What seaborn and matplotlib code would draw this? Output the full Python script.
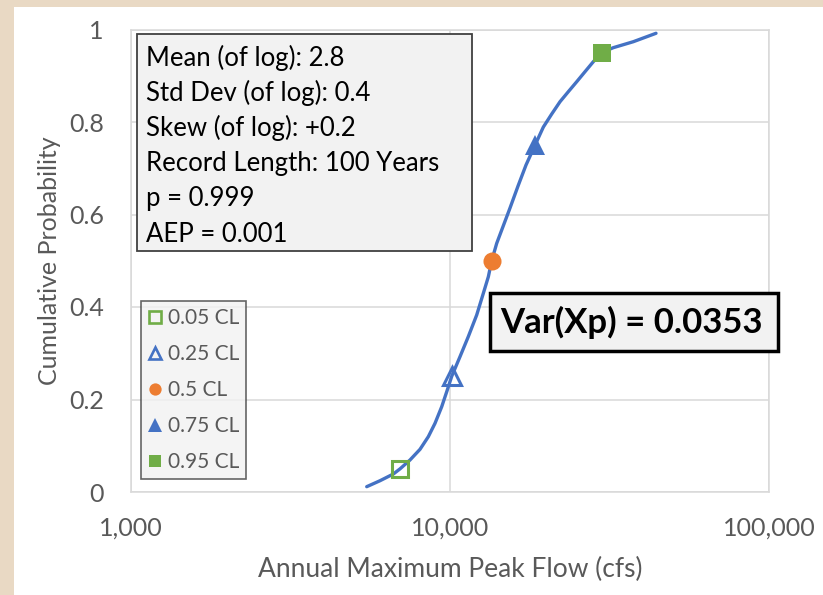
import matplotlib
matplotlib.use("Agg")
import matplotlib.pyplot as plt
import matplotlib.patches as mpatches
from matplotlib.lines import Line2D
from matplotlib.ticker import FixedLocator, FuncFormatter, NullLocator
import seaborn as sns
import pandas as pd

# ---- data ----
curve_flow = [5482, 6034, 6643, 6971, 7492, 8054, 8551, 8974, 9419, 9806,
              10123, 10747, 11410, 12125, 12720, 13190, 13511, 14010, 14526,
              15420, 16340, 17310, 18475, 19613, 20840, 22126, 23490, 24960,
              26500, 28140, 29892, 32500, 37548, 44236]
curve_prob = [0.0115, 0.0244, 0.0389, 0.05, 0.0692, 0.0923, 0.1196, 0.1485, 0.1844, 0.2205,
              0.25, 0.2925, 0.3358, 0.3827, 0.4296, 0.4655, 0.50, 0.5377, 0.5665,
              0.614, 0.6616, 0.707, 0.75, 0.789, 0.8173, 0.8439, 0.8655, 0.8871,
              0.9088, 0.9304, 0.95, 0.9607, 0.9736, 0.9918]

cl_labels = ["0.05 CL", "0.25 CL", "0.5 CL", "0.75 CL", "0.95 CL"]
cl_flow = [6971, 10123, 13511, 18475, 29892]
cl_prob = [0.05, 0.25, 0.50, 0.75, 0.95]

x_ticks = [1000, 10000, 100000]
y_ticks = [0, 0.2, 0.4, 0.6, 0.8, 1.0]
y_tick_labels = ["0", "0.2", "0.4", "0.6", "0.8", "1"]

info_lines = ["Mean (of log): 2.8", "Std Dev (of log): 0.4", "Skew (of log): +0.2",
              "Record Length: 100 Years", "p = 0.999", "AEP = 0.001"]
var_text = "Var(Xp) = 0.0353"

# ---- styling ----
sns.set_style("white")
plt.rcParams['font.family'] = ['Lato', 'DejaVu Sans']

BLUE = "#4472C4"
ORANGE = "#ED7D31"
GREEN = "#70AD47"
GRAY_TXT = "#595959"
GRID = "#D9D9D9"

W, H = 823, 595
fig = plt.figure(figsize=(W / 100, H / 100), dpi=100)
fig.patch.set_facecolor("#E9D9C4")
# white panel
fig.patches.append(mpatches.Rectangle((14 / W, 0), 1, (H - 7) / H, transform=fig.transFigure,
                                      facecolor="white", edgecolor="none", zorder=-10))

ax = fig.add_axes([131 / W, (H - 492) / H, (769 - 131) / W, (492 - 29.5) / H])
ax.set_facecolor("white")

curve_df = pd.DataFrame({"flow": curve_flow, "prob": curve_prob})
sns.lineplot(data=curve_df, x="flow", y="prob", sort=False, color=BLUE, linewidth=2.4,
             ax=ax, zorder=3)

styles = [
    dict(marker="s", mfc="none", mec=GREEN, ms=12, mew=2.2),
    dict(marker="^", mfc="none", mec=BLUE, ms=13, mew=2.2),
    dict(marker="o", mfc=ORANGE, mec=ORANGE, ms=13, mew=0),
    dict(marker="^", mfc=BLUE, mec=BLUE, ms=14, mew=0),
    dict(marker="s", mfc=GREEN, mec=GREEN, ms=13, mew=0),
]
handles = []
for lab, fx, py, st in zip(cl_labels, cl_flow, cl_prob, styles):
    ax.plot([fx], [py], linestyle="none", zorder=4, **st)
    hs = dict(st)
    hs["ms"] = st["ms"] * 0.68
    hs["mew"] = 1.9 if st["mew"] else 0
    handles.append(Line2D([], [], linestyle="none", label=lab, **hs))

ax.set_xscale("log")
ax.set_xlim(1000, 100000)
ax.set_ylim(0, 1)
ax.xaxis.set_major_locator(FixedLocator(x_ticks))
ax.xaxis.set_minor_locator(NullLocator())
ax.xaxis.set_major_formatter(FuncFormatter(lambda v, p: f"{int(round(v)):,}"))
ax.set_yticks(y_ticks)
ax.set_yticklabels(y_tick_labels)
ax.tick_params(axis="both", length=0, labelsize=18, colors=GRAY_TXT)
ax.tick_params(axis="x", pad=18)
ax.tick_params(axis="y", pad=19.5)
ax.grid(True, which="major", color=GRID, linewidth=1.1, zorder=0)
for s in ax.spines.values():
    s.set_color(GRID)
    s.set_linewidth(1.1)

ax.set_xlabel("Annual Maximum Peak Flow (cfs)", fontsize=19, color=GRAY_TXT, labelpad=12)
ax.set_ylabel("Cumulative Probability", fontsize=18, color=GRAY_TXT, labelpad=6)

# info box
def px2ax(x, y):
    return ((x - 131) / (769 - 131), (492 - y) / (492 - 29.5))

bx0, by0 = px2ax(137.3, 250.7)
bx1, by1 = px2ax(471.7, 34)
ax.add_patch(mpatches.Rectangle((bx0, by0), bx1 - bx0, by1 - by0, transform=ax.transAxes,
                                facecolor="#F2F2F2", edgecolor="#404040", linewidth=1.3, zorder=5))
for i, line in enumerate(info_lines):
    tx, ty = px2ax(146, 58 + i * 35.2)
    ax.text(tx, ty, line, transform=ax.transAxes, ha="left", va="center",
            fontsize=18.5, color="black", zorder=6)

# Var box
vx0, vy0 = px2ax(490, 350.7)
vx1, vy1 = px2ax(777.7, 293.3)
ax.add_patch(mpatches.Rectangle((vx0, vy0), vx1 - vx0, vy1 - vy0, transform=ax.transAxes,
                                facecolor="#F2F2F2", edgecolor="black", linewidth=2.5,
                                zorder=5, clip_on=False))
tx, ty = px2ax(631, 322)
ax.text(tx, ty, var_text, transform=ax.transAxes, ha="center", va="center",
        fontsize=25, fontweight="bold", color="black", zorder=6, clip_on=False)

# legend
lx0, ly0 = px2ax(140.7, 300.7)
leg = ax.legend(handles=handles, loc="upper left", bbox_to_anchor=(lx0, ly0),
                frameon=True, fontsize=15, labelcolor=GRAY_TXT, handlelength=0.7,
                handletextpad=0.25, labelspacing=0.77, borderpad=0.35, borderaxespad=0,
                fancybox=False)
leg.get_frame().set_facecolor("#F2F2F2")
leg.get_frame().set_edgecolor("#404040")
leg.get_frame().set_linewidth(1.2)
leg.set_zorder(7)

fig.savefig("out.png", dpi=100, facecolor=fig.get_facecolor())
